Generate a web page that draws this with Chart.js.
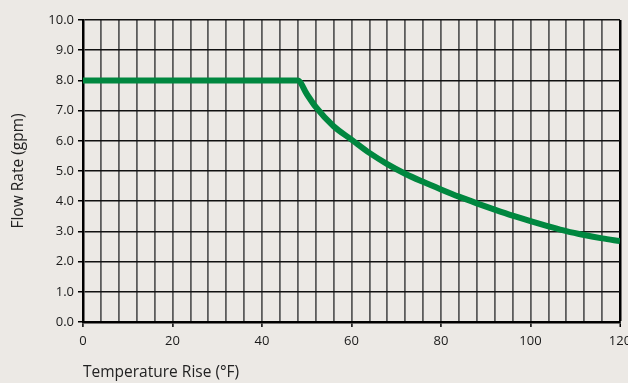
<!DOCTYPE html>
<html>
<head>
<meta charset="utf-8">
<script src="https://cdn.jsdelivr.net/npm/chart.js@4/dist/chart.umd.min.js"></script>
<style>
  html, body { margin: 0; padding: 0; background: #ECE9E5; }
  #wrap { width: 628px; height: 383px; }
</style>
</head>
<body>
<div id="wrap"><canvas id="c" width="628" height="383"></canvas></div>
<script>
// Temperature rise (°F) and flow rate (gpm)
const tempRise = [0, 48, 50, 52, 56, 60, 64, 68, 72, 76, 80, 84, 88, 92, 96, 100, 104, 108, 112, 116, 120];
const flowRate = [8.0, 8.0, 7.55, 7.12, 6.48, 6.04, 5.6, 5.23, 4.91, 4.64, 4.39, 4.15, 3.93, 3.72, 3.52, 3.34, 3.17, 3.01, 2.88, 2.77, 2.68];
const xLabels = [0, 20, 40, 60, 80, 100, 120];
const yMin = 0, yMax = 10, yStep = 1;
const xMin = 0, xMax = 120, xGridStep = 4;

const points = tempRise.map((t, i) => ({ x: t, y: flowRate[i] }));
const FONT = '"Open Sans", "Liberation Sans", sans-serif';

new Chart(document.getElementById('c'), {
  type: 'line',
  data: {
    datasets: [{
      data: points,
      borderColor: '#00873f',
      borderWidth: 6,
      pointRadius: 0,
      fill: false,
      cubicInterpolationMode: 'monotone',
      borderJoinStyle: 'round'
    }]
  },
  options: {
    responsive: false,
    animation: false,
    devicePixelRatio: 1,
    layout: { padding: { top: 20, right: 8, left: 0, bottom: 0 } },
    plugins: { legend: { display: false }, tooltip: { enabled: false } },
    scales: {
      x: {
        type: 'linear',
        min: xMin, max: xMax,
        afterFit: s => { s.height = 61; s.paddingRight = 0; s.paddingLeft = 0; },
        afterBuildTicks: s => {
          const t = [];
          for (let v = xMin; v <= xMax; v += xGridStep) t.push({ value: v });
          s.ticks = t;
        },
        border: { display: true, color: '#000', width: 2.5 },
        grid: {
          color: c => (c.tick && c.tick.value === xMax) ? '#000' : '#5c5c5c',
          lineWidth: c => (c.tick && c.tick.value === xMax) ? 2.5 : 1.8,
          tickLength: 5,
          tickColor: c => (c.tick && xLabels.includes(c.tick.value)) ? '#000' : 'rgba(0,0,0,0)',
          tickWidth: 1.5
        },
        ticks: {
          autoSkip: false,
          maxRotation: 0,
          padding: 6,
          color: '#1a1a1a',
          font: { family: FONT, size: 13 },
          callback: v => xLabels.includes(v) ? String(v) : ''
        },
        title: {
          display: true,
          text: 'Temperature Rise (°F)',
          align: 'start',
          color: '#222',
          font: { family: FONT, size: 15.5 },
          padding: { top: 0, bottom: 1 }
        }
      },
      y: {
        min: yMin, max: yMax,
        afterFit: s => { s.width = 83; },
        border: { display: true, color: '#000', width: 2.5 },
        grid: {
          color: '#111',
          lineWidth: 1.5,
          tickLength: 5,
          tickColor: '#000',
          tickWidth: 1.5
        },
        ticks: {
          stepSize: yStep,
          padding: 4,
          color: '#1a1a1a',
          font: { family: FONT, size: 13 },
          callback: v => Number(v).toFixed(1)
        },
        title: {
          display: true,
          text: 'Flow Rate (gpm)',
          color: '#222',
          font: { family: FONT, size: 15.5 },
          padding: { top: 9, bottom: 0 }
        }
      }
    }
  }
});
</script>
</body>
</html>
